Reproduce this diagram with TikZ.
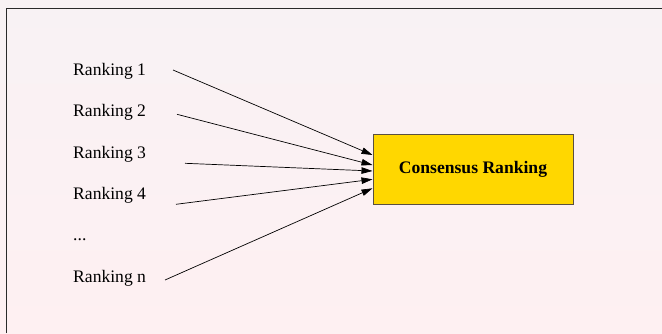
\documentclass[tikz,border=0pt]{standalone}
\usepackage{fontspec}
\setmainfont{Liberation Serif}
\usetikzlibrary{arrows.meta}
\definecolor{pagetop}{HTML}{F8F2F4}
\definecolor{pagebot}{HTML}{FEF0F2}
\definecolor{framegray}{HTML}{2A2A2A}
\definecolor{boxgold}{HTML}{FFD700}
\definecolor{boxedge}{HTML}{5A5040}
\tikzset{
  x=1pt, y=1pt,
  rank/.style={anchor=base west, inner sep=0pt, font=\fontsize{17.6}{19}\selectfont},
  consbox/.style={draw=boxedge, line width=1pt, fill=boxgold, minimum width=200pt,
    minimum height=70pt, inner sep=0pt, font=\fontsize{17.6}{19}\selectfont\bfseries},
  feed/.style={line width=0.7pt, -{Triangle[length=11pt,width=6.5pt]}}
}
\begin{document}
\begin{tikzpicture}
  % page background and frame (top and left rules only)
  \shade[top color=pagetop, bottom color=pagebot] (0,0) rectangle (662,333);
  \useasboundingbox (0,0) rectangle (662,333);
  \draw[framegray, line width=1.8pt] (6.5,0) -- (6.5,324.5) -- (662,324.5);

  % source rankings
  \node[rank] (r1) at (73,257.3) {Ranking 1};
  \node[rank] (r2) at (73,216.3) {Ranking 2};
  \node[rank] (r3) at (73,174.8) {Ranking 3};
  \node[rank] (r4) at (73,133.5) {Ranking 4};
  \node[rank] (rd) at (73,92.5) {...};
  \node[rank] (rn) at (73,50.5) {Ranking n};

  % target
  \node[consbox] (cons) at (473,163.8) {Consensus Ranking};

  % arrow tails
  \coordinate (t1) at (173,263);
  \coordinate (t2) at (177,218.7);
  \coordinate (t3) at (185,169.7);
  \coordinate (t4) at (176,128.7);
  \coordinate (tn) at (165,53);

  % arrow heads on the left side of the box
  \coordinate (h1) at (cons.west |- 0,178);
  \coordinate (h2) at (cons.west |- 0,168);
  \coordinate (h3) at (cons.west |- 0,162);
  \coordinate (h4) at (cons.west |- 0,153.7);
  \coordinate (hn) at (cons.west |- 0,144.7);

  \draw[feed] (t1) -- (h1);
  \draw[feed] (t2) -- (h2);
  \draw[feed] (t3) -- (h3);
  \draw[feed] (t4) -- (h4);
  \draw[feed] (tn) -- (hn);
\end{tikzpicture}
\end{document}
